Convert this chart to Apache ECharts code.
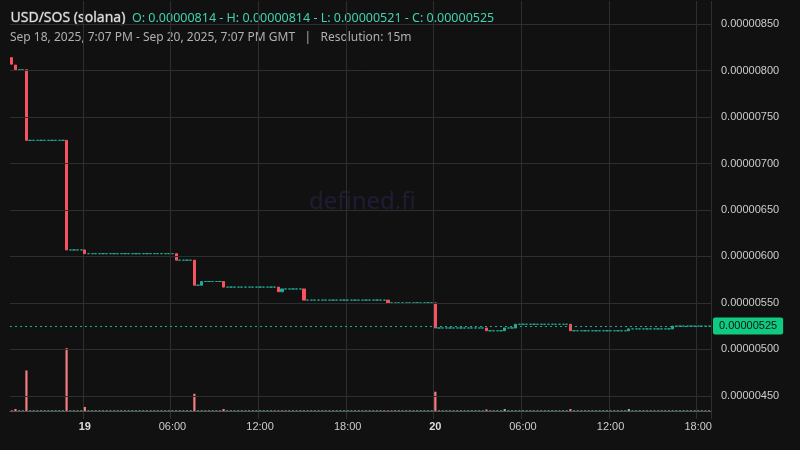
<!DOCTYPE html>
<html><head><meta charset="utf-8">
<script src="https://cdn.jsdelivr.net/npm/echarts@6/dist/echarts.min.js"></script>
<style>html,body{margin:0;background:#111111}#c{width:800px;height:450px}</style>
</head><body><div id="c"></div>
<script>
// price in units of 1e-8
const startTime = "2025-09-18T19:00";
const candleCount = 192;
// change points: [index, open, close]
const moves = [[0,814,807],[1,806,801],[4,801,725],[15,725,607],[20,607,603],[45,603,596],[50,596,569],[52,569,573],[58,573,567],[73,567,562],[74,562,565],[80,565,553],[103,553,550],[116,550,523],[130,523,520],[135,520,523],[138,523,527],[153,527,520],[169,520,522],[181,522,525]];
const volumeSpikes = [[1,2],[4,40],[15,62],[20,4],[50,17],[58,2],[116,19],[130,1.5],[135,2],[153,2],[169,2]];
const xTickHours = {6:"06:00",12:"12:00",18:"18:00"};
const yTicks = [450,500,550,600,650,700,750,800,850];

const cats=[], ohlc=[], vols=[];
let last=814; const mv={}; moves.forEach(m=>mv[m[0]]=m);
const vs={}; volumeSpikes.forEach(v=>vs[v[0]]=v[1]);
const t0=new Date(startTime).getTime();
for(let i=0;i<candleCount;i++){
  const d=new Date(t0+i*900000); cats.push(d);
  let o=last,c=last; if(mv[i]){o=mv[i][1];c=mv[i][2];}
  ohlc.push([o,c,Math.min(o,c),Math.max(o,c)]); last=c;
  vols.push({value:vs[i]||0.6,itemStyle:{color:c<o?'#f77c80':'#6cc2b0'}});
}
function isTick(i){const d=cats[i];return d.getMinutes()===0&&d.getHours()%6===0;}
function lab(i){const d=cats[i];const h=d.getHours();return h===0?'{b|'+d.getDate()+'}':xTickHours[h];}
const fmt=v=>(v*1e-8).toFixed(8);
const ch=echarts.init(document.getElementById('c'));
ch.setOption({
  backgroundColor:'#111111',animation:false,
  graphic:[
    {type:'text',left:10,top:11,style:{text:'USD/SOS (solana)',fill:'#e0e0e0',font:'14px "Noto Sans"'}},
    {type:'text',left:132,top:12,style:{text:'O: 0.00000814 - H: 0.00000814 - L: 0.00000521 - C: 0.00000525',fill:'#3fd3b0',font:'12.5px "Noto Sans"'}},
    {type:'text',left:10,top:32,style:{text:'Sep 18, 2025, 7:07 PM - Sep 20, 2025, 7:07 PM GMT   |   Resolution: 15m',fill:'#b0b0b0',font:'12px "Noto Sans"'}},
    {type:'text',left:309,top:190,style:{text:'defined.fi',fill:'#1f1d35',font:'24px "Noto Sans"'}}
  ],
  grid:[{left:10,right:89,top:1,bottom:31},{left:10,right:89,top:340,bottom:39}],
  xAxis:[
   {type:'category',data:cats.map((d,i)=>i),gridIndex:0,boundaryGap:true,
    axisLine:{show:false},axisTick:{show:false},axisLabel:{show:false},
    splitLine:{show:true,interval:(i)=>isTick(i),lineStyle:{color:'#2e2e2e'}}},
   {type:'category',data:cats.map((d,i)=>i),gridIndex:1,boundaryGap:true,
    axisLine:{show:true,lineStyle:{color:'#555'}},axisTick:{show:false},
    axisLabel:{interval:(i)=>isTick(i),formatter:(v,i)=>lab(i),color:'#cccccc',fontSize:11,margin:10,
      rich:{b:{fontWeight:'bold',fontSize:11,color:'#dddddd'}}},splitLine:{show:false}}
  ],
  yAxis:[
   {type:'value',position:'right',gridIndex:0,min:425,max:875,interval:25,
    axisLine:{show:false},axisTick:{show:false},
    axisLabel:{color:'#cccccc',fontSize:11,margin:10,formatter:v=>yTicks.includes(v)?fmt(v):''},
    splitLine:{show:false}},
   {type:'value',gridIndex:1,min:0,max:70,show:false,splitLine:{show:false}}
  ],
  series:[
   {type:'candlestick',data:ohlc,xAxisIndex:0,yAxisIndex:0,barWidth:'75%',
    itemStyle:{color:'#22ab94',color0:'#f7525f',borderColor:'#22ab94',borderColor0:'#f7525f'},
    markLine:{symbol:'none',silent:true,animation:false,
      data:yTicks.map(v=>({yAxis:v,lineStyle:{color:'#2e2e2e',type:'solid',width:1},label:{show:false}})).concat([{yAxis:525}]),
      lineStyle:{color:'#22ab94',type:[2,3],width:1},
      label:{position:'end',formatter:()=>fmt(525),color:'#111',backgroundColor:'#0ecb81',padding:[3,6],fontSize:11,borderRadius:2,distance:2}}},
   {type:'bar',data:vols,xAxisIndex:1,yAxisIndex:1,barWidth:'60%'}
  ],
  graphic2:null
});
ch.setOption({graphic:[{type:'line',shape:{x1:711,y1:10,x2:711,y2:411},style:{stroke:'#555',lineWidth:1}}]});
</script></body></html>
